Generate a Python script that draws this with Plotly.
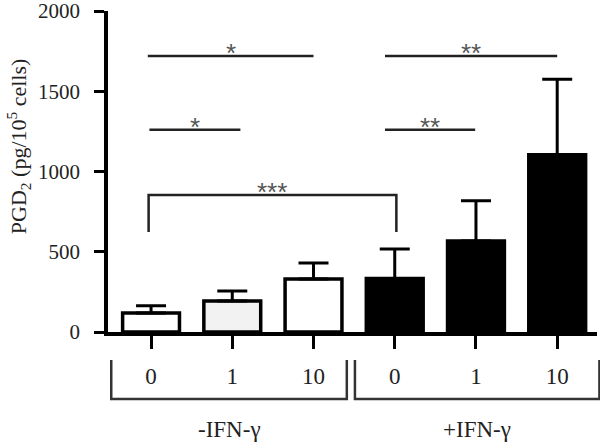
import plotly.graph_objects as go

# ---- data ----
dose_labels = ["0", "1", "10", "0", "1", "10"]
group_labels = ["-IFN-γ", "+IFN-γ"]
pgd2_mean = [118, 193, 330, 333, 567, 1105]
pgd2_sem = [45, 62, 100, 184, 250, 470]
bar_colors = ["#ffffff", "#f2f2f2", "#ffffff", "#000000", "#000000", "#000000"]

# significance comparisons: (x start, x end, y level, label)
sig_lines = [
    (-0.04, 2.0, 1720, "*"),
    (-0.02, 1.1, 1260, "*"),
    (2.88, 5.0, 1720, "**"),
    (2.88, 3.99, 1260, "**"),
]
bracket = (-0.03, 3.02, 853, 623, "***")

x_pos = list(range(len(pgd2_mean)))
X_RANGE = [-0.53, 5.49]

SERIF = "Liberation Serif, Times New Roman, serif"
SANS = "Liberation Sans, Arial, sans-serif"

fig = go.Figure()
fig.add_trace(go.Bar(
    x=x_pos, y=pgd2_mean, width=0.7,
    marker=dict(color=bar_colors, line=dict(color="black", width=3.5)),
    error_y=dict(type="data", symmetric=False, array=pgd2_sem,
                 arrayminus=[0] * len(pgd2_sem), color="black",
                 thickness=3, width=15),
    showlegend=False,
))


def xpaper(xv):
    return (xv - X_RANGE[0]) / (X_RANGE[1] - X_RANGE[0])


shapes = []
annotations = []
line_col = "#222222"
star_font = dict(family=SANS, size=26, color="#555")
for x0, x1, yv, lab in sig_lines:
    shapes.append(dict(type="line", xref="x", yref="y", x0=x0, x1=x1, y0=yv, y1=yv,
                       line=dict(color=line_col, width=2.5)))
    annotations.append(dict(x=(x0 + x1) / 2, y=yv, xref="x", yref="y", text=lab,
                            showarrow=False, yanchor="middle", yshift=3, font=star_font))
bx0, bx1, by, bleg, blab = bracket
shapes.append(dict(type="path", xref="x", yref="y",
                   path=f"M {bx0},{bleg} L {bx0},{by} L {bx1},{by} L {bx1},{bleg}",
                   line=dict(color=line_col, width=2.5)))
annotations.append(dict(x=(bx0 + bx1) / 2, y=by, xref="x", yref="y", text=blab,
                        showarrow=False, yanchor="middle", yshift=3, font=star_font))

# group brackets below axis
group_spans = [(-0.49, 2.41), (2.51, 5.52)]
yt, yb = -0.087, -0.209
for (g0, g1), glab in zip(group_spans, group_labels):
    p0, p1 = xpaper(g0), xpaper(g1)
    shapes.append(dict(type="path", xref="paper", yref="paper",
                       path=f"M {p0},{yt} L {p0},{yb} L {p1},{yb} L {p1},{yt}",
                       line=dict(color="#333", width=2.5)))
    annotations.append(dict(x=(g0 + g1) / 2, y=-0.305, xref="x", yref="paper", text=glab,
                            showarrow=False, yanchor="middle", xanchor="center",
                            font=dict(family=SERIF, size=23, color="#222")))

annotations.append(dict(x=-0.184, y=0.579, xref="paper", yref="paper",
                        text="PGD<sub>2</sub> (pg/10<sup>5</sup> cells)", textangle=-90,
                        xanchor="center", yanchor="middle",
                        showarrow=False, font=dict(family=SERIF, size=22, color="#222")))

fig.update_layout(
    width=600, height=444, autosize=False,
    margin=dict(l=108, r=3, t=11, b=112),
    paper_bgcolor="white", plot_bgcolor="white",
    shapes=shapes, annotations=annotations,
    xaxis=dict(range=X_RANGE, tickmode="array", tickvals=x_pos, ticktext=dose_labels,
               showline=True, linecolor="black", linewidth=3.5, ticks="outside",
               ticklen=13, tickwidth=3, tickcolor="black", showgrid=False, zeroline=False,
               automargin=False, ticklabeloverflow="allow",
               ticklabelstandoff=8, tickfont=dict(family=SERIF, size=23, color="#222")),
    yaxis=dict(range=[0, 2000], dtick=500, showline=True, linecolor="black", linewidth=3.5,
               ticks="outside", ticklen=10, tickwidth=3, tickcolor="black",
               showgrid=False, zeroline=False, ticklabelstandoff=10, automargin=False,
               ticklabeloverflow="allow",
               tickfont=dict(family=SERIF, size=21, color="#222")),
)

fig.write_html("out.html", config={"displayModeBar": False},
               post_script="document.body.style.margin='0';")
